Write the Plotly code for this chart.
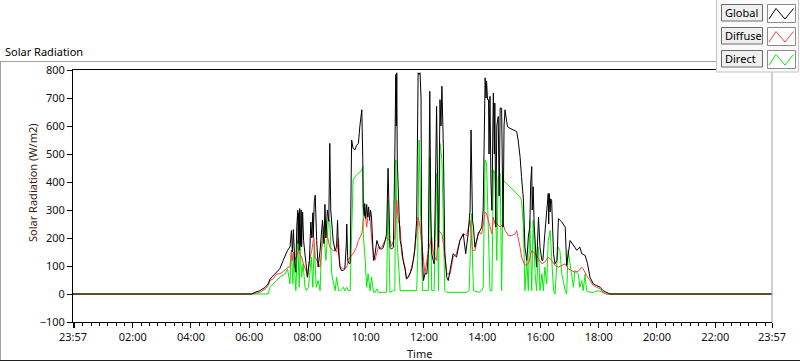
import plotly.graph_objects as go

# ---------------- data ----------------
global_time = ["23:57", "06:05", "06:12", "06:22", "06:33", "06:39", "06:43", "06:50", "06:57", "07:03",
    "07:10", "07:14", "07:19", "07:24", "07:27", "07:29", "07:31", "07:34", "07:36", "07:38",
    "07:40", "07:41", "07:42", "07:43", "07:44", "07:46", "07:47", "07:48", "07:50", "07:52",
    "07:55", "07:57", "08:00", "08:04", "08:07", "08:09", "08:11", "08:12", "08:14", "08:16",
    "08:19", "08:22", "08:26", "08:31", "08:34", "08:36", "08:38", "08:41", "08:44", "08:46",
    "08:48", "08:50", "08:53", "08:57", "09:00", "09:02", "09:04", "09:07", "09:10", "09:14",
    "09:17", "09:20", "09:21", "09:23", "09:26", "09:28", "09:31", "09:34", "09:38", "09:41",
    "09:45", "09:48", "09:52", "09:54", "09:55", "09:57", "09:58", "10:00", "10:02", "10:04",
    "10:06", "10:08", "10:10", "10:12", "10:14", "10:16", "10:19", "10:23", "10:26", "10:29",
    "10:33", "10:36", "10:40", "10:43", "10:46", "10:48", "10:50", "10:53", "10:57", "11:00",
    "11:02", "11:03", "11:04", "11:05", "11:07", "11:09", "11:11", "11:14", "11:17", "11:21",
    "11:24", "11:28", "11:31", "11:35", "11:38", "11:41", "11:45", "11:48", "11:50", "11:52",
    "11:54", "11:55", "11:57", "11:59", "12:02", "12:06", "12:09", "12:12", "12:14", "12:16",
    "12:19", "12:21", "12:23", "12:26", "12:28", "12:30", "12:33", "12:35", "12:37", "12:40",
    "12:43", "12:47", "12:50", "12:54", "13:00", "13:07", "13:14", "13:21", "13:26", "13:31",
    "13:35", "13:37", "13:38", "13:40", "13:42", "13:45", "13:52", "13:59", "14:02", "14:06",
    "14:08", "14:09", "14:11", "14:13", "14:14", "14:16", "14:18", "14:20", "14:22", "14:23",
    "14:25", "14:26", "14:28", "14:30", "14:33", "14:35", "14:37", "14:40", "14:43", "14:45",
    "14:47", "14:50", "14:52", "14:57", "15:01", "15:04", "15:08", "15:11", "15:14", "15:18",
    "15:21", "15:25", "15:28", "15:32", "15:35", "15:38", "15:40", "15:42", "15:43", "15:45",
    "15:47", "15:49", "15:52", "15:56", "15:59", "16:03", "16:05", "16:09", "16:13", "16:16",
    "16:17", "16:18", "16:20", "16:21", "16:23", "16:27", "16:30", "16:34", "16:37", "16:44",
    "16:51", "16:54", "17:01", "17:08", "17:15", "17:21", "17:25", "17:32", "17:37", "17:42",
    "17:49", "17:56", "18:03", "18:09", "18:16", "18:23", "23:57"]
global_value = [0, 0, 6, 12, 24, 36, 54, 66, 78, 90,
    120, 138, 156, 168, 227, 150, 230, 108, 78, 240,
    299, 180, 290, 156, 305, 170, 300, 168, 293, 191,
    150, 108, 60, 120, 257, 200, 290, 203, 330, 353,
    191, 96, 156, 263, 180, 320, 200, 300, 260, 538,
    300, 263, 190, 155, 170, 263, 150, 96, 84, 84,
    90, 179, 250, 120, 108, 110, 550, 520, 515, 530,
    538, 600, 658, 479, 311, 280, 323, 270, 320, 275,
    311, 263, 300, 275, 200, 120, 140, 191, 175, 161,
    161, 165, 190, 215, 449, 250, 167, 160, 167, 500,
    784, 600, 790, 479, 335, 275, 191, 167, 120, 90,
    54, 60, 72, 90, 120, 155, 263, 790, 784, 790,
    700, 263, 120, 48, 72, 72, 144, 724, 300, 144,
    120, 108, 300, 670, 400, 167, 694, 600, 742, 526,
    144, 60, 48, 84, 144, 132, 191, 215, 144, 215,
    300, 586, 400, 263, 239, 167, 215, 239, 300, 772,
    700, 760, 694, 694, 500, 706, 400, 299, 600, 718,
    500, 682, 239, 600, 634, 350, 664, 664, 239, 600,
    658, 620, 598, 592, 590, 586, 583, 580, 550, 490,
    419, 335, 167, 120, 203, 239, 400, 455, 300, 383,
    250, 191, 96, 275, 167, 120, 120, 215, 300, 359,
    250, 359, 293, 340, 335, 144, 108, 120, 269, 257,
    239, 102, 191, 173, 156, 168, 144, 138, 108, 60,
    36, 30, 24, 12, 6, 0, 0]

diffuse_time = ["23:57", "06:05", "06:22", "06:33", "06:39", "06:43", "06:50", "06:57", "07:03", "07:10",
    "07:19", "07:24", "07:27", "07:29", "07:31", "07:34", "07:38", "07:42", "07:45", "07:48",
    "07:53", "07:57", "08:00", "08:04", "08:09", "08:13", "08:16", "08:19", "08:22", "08:26",
    "08:31", "08:36", "08:40", "08:46", "08:50", "08:53", "08:57", "09:00", "09:04", "09:07",
    "09:14", "09:21", "09:24", "09:28", "09:34", "09:41", "09:45", "09:52", "09:55", "09:59",
    "10:02", "10:05", "10:09", "10:12", "10:14", "10:19", "10:26", "10:33", "10:40", "10:43",
    "10:50", "10:53", "11:00", "11:04", "11:07", "11:11", "11:14", "11:21", "11:24", "11:31",
    "11:38", "11:41", "11:45", "11:48", "11:52", "11:55", "12:02", "12:09", "12:16", "12:19",
    "12:26", "12:30", "12:37", "12:43", "12:47", "12:54", "13:00", "13:07", "13:14", "13:21",
    "13:28", "13:35", "13:40", "13:45", "13:52", "13:59", "14:06", "14:09", "14:13", "14:20",
    "14:23", "14:26", "14:30", "14:37", "14:43", "14:47", "14:54", "15:01", "15:08", "15:11",
    "15:18", "15:21", "15:28", "15:35", "15:42", "15:49", "15:56", "16:03", "16:09", "16:16",
    "16:23", "16:30", "16:37", "16:44", "16:51", "16:57", "17:04", "17:11", "17:18", "17:25",
    "17:28", "17:35", "17:42", "17:49", "17:56", "18:03", "18:09", "18:16", "23:57"]
diffuse_value = [0, 0, 6, 18, 30, 48, 55, 72, 72, 80,
    96, 96, 156, 120, 150, 120, 138, 156, 140, 132,
    100, 84, 60, 120, 156, 203, 132, 120, 108, 96,
    191, 263, 215, 167, 160, 155, 155, 150, 200, 96,
    90, 96, 120, 132, 144, 167, 191, 215, 263, 287,
    239, 290, 263, 215, 167, 120, 167, 167, 191, 203,
    191, 170, 203, 335, 263, 239, 144, 96, 54, 72,
    120, 155, 215, 275, 239, 191, 72, 155, 203, 144,
    120, 227, 215, 144, 72, 72, 132, 144, 191, 215,
    209, 263, 155, 155, 220, 215, 293, 287, 263, 215,
    275, 251, 251, 239, 251, 227, 209, 209, 215, 227,
    167, 132, 102, 108, 155, 144, 126, 108, 114, 132,
    120, 102, 96, 102, 108, 90, 84, 78, 81, 96,
    90, 66, 48, 30, 24, 18, 6, 0, 0]

direct_time = ["23:57", "06:39", "06:43", "06:50", "06:57", "07:03", "07:14", "07:19", "07:24", "07:27",
    "07:30", "07:32", "07:36", "07:40", "07:43", "07:45", "07:48", "07:51", "07:55", "07:58",
    "08:02", "08:05", "08:08", "08:11", "08:14", "08:18", "08:22", "08:26", "08:29", "08:33",
    "08:38", "08:43", "08:46", "08:50", "08:53", "08:57", "09:00", "09:04", "09:07", "09:14",
    "09:17", "09:21", "09:24", "09:28", "09:31", "09:34", "09:38", "09:41", "09:45", "09:48",
    "09:52", "09:54", "09:55", "09:59", "10:02", "10:05", "10:09", "10:12", "10:16", "10:19",
    "10:23", "10:26", "10:43", "10:46", "10:50", "10:57", "11:00", "11:02", "11:05", "11:11",
    "11:45", "11:47", "11:50", "11:53", "11:57", "12:09", "12:12", "12:16", "12:21", "12:26",
    "12:30", "12:33", "12:37", "12:40", "12:43", "12:47", "13:28", "13:33", "13:37", "13:38",
    "13:40", "13:42", "13:52", "13:59", "14:02", "14:06", "14:09", "14:13", "14:16", "14:20",
    "14:23", "14:26", "14:30", "14:33", "14:37", "14:40", "14:43", "14:50", "14:57", "15:04",
    "15:11", "15:18", "15:21", "15:25", "15:28", "15:32", "15:35", "15:38", "15:42", "15:45",
    "15:49", "15:52", "15:56", "15:59", "16:03", "16:06", "16:09", "16:13", "16:16", "16:20",
    "16:23", "16:27", "16:30", "16:36", "16:40", "16:44", "16:51", "16:54", "16:57", "17:01",
    "17:04", "17:08", "17:11", "17:18", "17:21", "17:25", "17:28", "17:32", "17:35", "17:42",
    "17:49", "17:59", "18:06", "18:16", "23:57"]
direct_value = [0, 0, 24, 36, 48, 60, 72, 90, 36, 156,
    36, 144, 12, 191, 24, 168, 60, 108, 24, 12,
    24, 96, 132, 24, 179, 24, 48, 12, 167, 239,
    120, 263, 263, 72, 48, 12, 60, 12, 12, 24,
    12, 24, 12, 12, 215, 407, 419, 425, 431, 437,
    443, 455, 215, 120, 24, 72, 12, 60, 6, 6,
    18, 6, 6, 335, 6, 12, 12, 479, 179, 12,
    12, 120, 550, 299, 12, 12, 490, 12, 12, 431,
    12, 538, 479, 239, 12, 6, 6, 12, 263, 287,
    120, 12, 6, 12, 24, 479, 467, 239, 12, 12,
    443, 431, 120, 419, 431, 12, 407, 395, 383, 371,
    359, 347, 335, 239, 12, 120, 12, 263, 12, 263,
    72, 12, 167, 12, 72, 12, 96, 36, 191, 227,
    132, 12, 0, 168, 156, 72, 12, 0, 156, 96,
    72, 24, 84, 72, 24, 48, 12, 72, 12, 6,
    6, 12, 6, 0, 0]

series_names = ["Global", "Diffuse", "Direct"]
series_colors = ["#000000", "#ff3c3c", "#00ee00"]

tick_times = ["23:57", "00:00", "02:00", "04:00", "06:00", "08:00", "10:00", "12:00",
              "14:00", "16:00", "18:00", "20:00", "22:00", "23:57"]
tick_text = ["23:57", "", "02:00", "04:00", "06:00", "08:00", "10:00", "12:00",
             "14:00", "16:00", "18:00", "20:00", "22:00", "23:57"]
y_ticks = [-100, 0, 100, 200, 300, 400, 500, 600, 700, 800]

# ---------------- helpers ----------------
W, H = 800, 361
L, R, T, B = 73, 28, 70, 39
PW, PH = W - L - R, H - T - B


def px(X):
    return (X - L) / PW


def py(Y):
    return (H - B - Y) / PH


def to_dt(times):
    out = []
    for i, t in enumerate(times):
        day = "2023-12-31" if (i == 0 and t == "23:57") else "2024-01-01"
        out.append(f"{day} {t}:00")
    return out


FONT = "Noto Sans"
FS = 11
fig = go.Figure()

data = {
    "Global": (global_time, global_value),
    "Diffuse": (diffuse_time, diffuse_value),
    "Direct": (direct_time, direct_value),
}
# draw Direct first, Global last (on top)
for name in ["Direct", "Diffuse", "Global"]:
    t, v = data[name]
    col = series_colors[series_names.index(name)]
    fig.add_trace(go.Scatter(x=to_dt(t), y=v, mode="lines", name=name,
                             line=dict(color=col, width=1), showlegend=False,
                             hoverinfo="skip"))

fig.update_layout(
    width=W, height=H,
    margin=dict(l=L, r=R, t=T, b=B, pad=0),
    paper_bgcolor="white", plot_bgcolor="white",
    font=dict(family=FONT, size=FS, color="#111111"),
    showlegend=False,
)

fig.update_xaxes(
    type="date",
    range=["2023-12-31 23:57:00", "2024-01-01 23:57:00"],
    tickmode="array", tickvals=to_dt(tick_times), ticktext=tick_text,
    ticks="outside", ticklen=5, tickcolor="black", tickwidth=1,
    minor=dict(ticks="outside", ticklen=3, tickcolor="black", tickwidth=1,
               tick0="2024-01-01 00:00:00", dtick=120 / 7 * 60000, showgrid=False),
    showgrid=False, zeroline=False,
    showline=True, linecolor="black", linewidth=1, mirror=True,
    tickfont=dict(family=FONT, size=FS, color="#111111"),
)
fig.update_yaxes(
    range=[-100, 800], tickmode="array", tickvals=y_ticks,
    ticks="outside", ticklen=5, tickcolor="black", tickwidth=1,
    showgrid=False, zeroline=False,
    showline=True, linecolor="black", linewidth=1, mirror=False,
    tickfont=dict(family=FONT, size=FS, color="#111111"),
)

shapes = []
# right border of plot area (grey)
shapes.append(dict(type="line", xref="paper", yref="paper", x0=1, x1=1, y0=0, y1=1,
                   line=dict(color="#a0a0a0", width=1)))
# outer graph frame
shapes.append(dict(type="line", xref="paper", yref="paper", x0=px(0.5), x1=px(0.5),
                   y0=py(61), y1=py(360.5), line=dict(color="#a0a0a0", width=1)))
shapes.append(dict(type="line", xref="paper", yref="paper", x0=px(0), x1=px(717),
                   y0=py(61.5), y1=py(61.5), line=dict(color="#a0a0a0", width=1)))
shapes.append(dict(type="line", xref="paper", yref="paper", x0=px(0), x1=px(800),
                   y0=py(360.5), y1=py(360.5), line=dict(color="#202020", width=1)))

# legend panel
shapes.append(dict(type="rect", xref="paper", yref="paper", x0=px(716.5), x1=px(798.5),
                   y0=py(72), y1=py(-1), fillcolor="#fafafa",
                   line=dict(color="#c4c4c4", width=1)))
annotations = []
row_tops = [4.5, 27.5, 50.5]
for i, name in enumerate(series_names):
    top = row_tops[i]
    shapes.append(dict(type="rect", xref="paper", yref="paper", x0=px(721.5), x1=px(762.5),
                       y0=py(top + 16.5), y1=py(top), fillcolor="#f0f0f0",
                       line=dict(color="#6a6a6a", width=1)))
    shapes.append(dict(type="rect", xref="paper", yref="paper", x0=px(767.5), x1=px(795.5),
                       y0=py(top + 18), y1=py(top), fillcolor="white",
                       line=dict(color="#8a8a8a", width=1)))
    zx = [769, 776, 785, 793.5]
    zy = [top + 14.5, top + 4, top + 14.5, top + 4]
    path = "M " + " L ".join(f"{px(a)},{py(b)}" for a, b in zip(zx, zy))
    shapes.append(dict(type="path", xref="paper", yref="paper", path=path,
                       line=dict(color=series_colors[i], width=1)))
    annotations.append(dict(text=name, xref="paper", yref="paper", x=px(723),
                            y=py(top + 8.3), xanchor="left", yanchor="middle",
                            showarrow=False, font=dict(family=FONT, size=11, color="black")))

annotations.append(dict(text="Solar Radiation", xref="paper", yref="paper", x=px(3),
                        y=py(51), xanchor="left", yanchor="middle", showarrow=False,
                        font=dict(family=FONT, size=FS, color="black")))
annotations.append(dict(text="Time", xref="paper", yref="paper", x=px(419),
                        y=py(353), xanchor="center", yanchor="middle", showarrow=False,
                        font=dict(family=FONT, size=FS, color="#111111")))
annotations.append(dict(text="Solar Radiation (W/m2)", xref="paper", yref="paper",
                        x=px(32), y=py(183), xanchor="center", yanchor="middle",
                        textangle=-90, showarrow=False,
                        font=dict(family=FONT, size=FS, color="#3c1c10")))

fig.update_layout(shapes=shapes, annotations=annotations)
fig.write_html("out.html", config={"displayModeBar": False, "staticPlot": True},
               post_script="document.body.style.margin='0';document.body.style.overflow='hidden';")
